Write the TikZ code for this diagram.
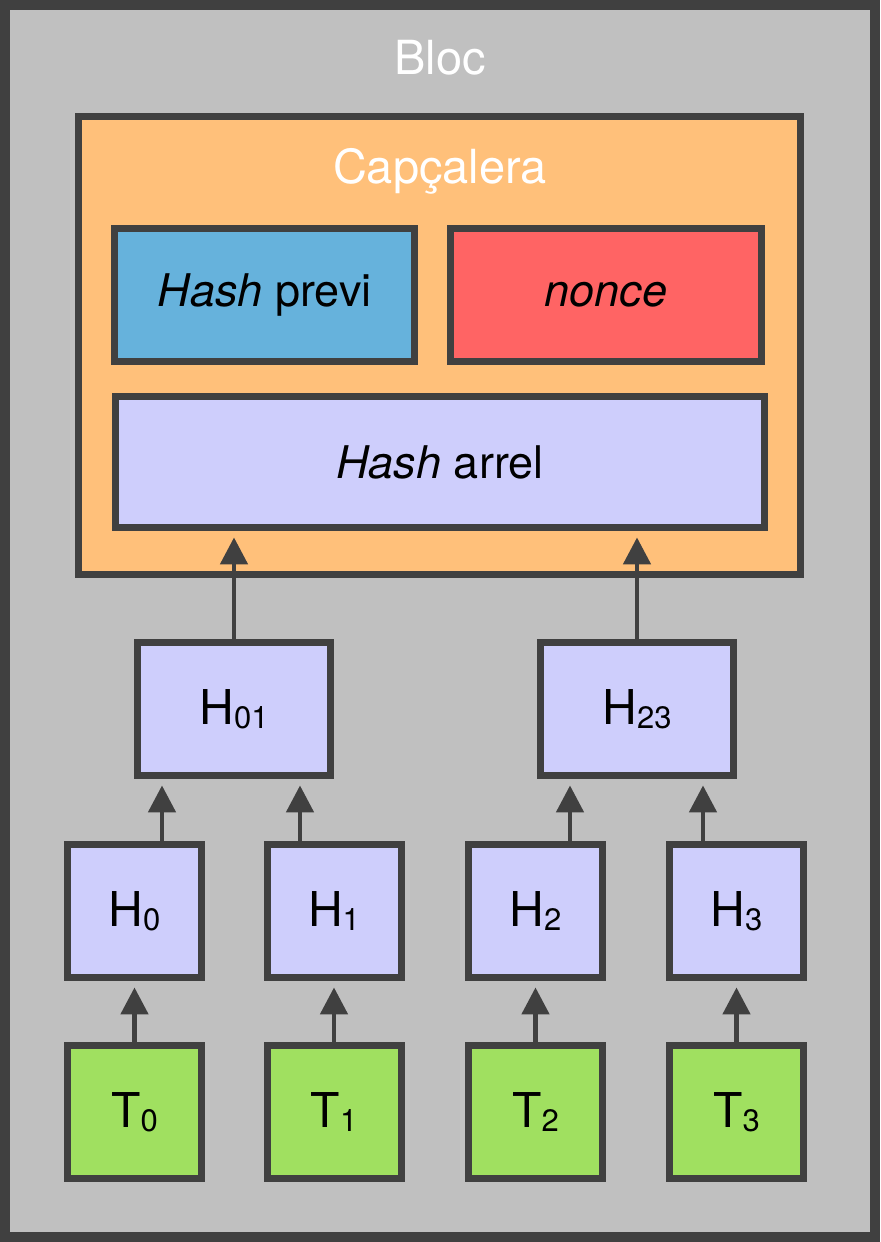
\documentclass[tikz,border=0pt]{standalone}
\usepackage{fontspec}
\setmainfont{TeX Gyre Heros}
\usetikzlibrary{arrows.meta,positioning,calc}
\definecolor{edgegrey}{HTML}{404040}
\definecolor{backg}{HTML}{C0C0C0}
\definecolor{header}{HTML}{FFC07A}
\definecolor{prevblue}{HTML}{66B2DC}
\definecolor{noncered}{HTML}{FF6464}
\definecolor{lav}{HTML}{CECEFC}
\definecolor{txgreen}{HTML}{A0E060}
\newcommand\idx[1]{\raisebox{-0.08em}{\fontsize{15.5pt}{15.5pt}\selectfont #1}}

\begin{document}
\begin{tikzpicture}[x=0.5pt,y=-0.5pt,
    box/.style={draw=edgegrey,line width=3.5pt,inner sep=0pt,
      font=\fontsize{22.5pt}{22.5pt}\selectfont},
    hashbox/.style={box,fill=lav,minimum width=67pt,minimum height=66.5pt,
      font=\fontsize{24pt}{24pt}\selectfont},
    txbox/.style={hashbox,fill=txgreen},
    title/.style={white,font=\fontsize{23.5pt}{23.5pt}\selectfont},
    arr/.style={draw=edgegrey,line width=2.4pt,
      -{Triangle[length=13.5pt,width=13.5pt]},shorten >=3.2pt}]
    \useasboundingbox (0,0) rectangle (880,1242);
    \draw[edgegrey,line width=5pt,fill=backg] (5,5) rectangle (875,1237);
    \node[title] (bloclbl) at (440,58) {Bloc};
    % capçalera
    \node[box,fill=header,minimum width=361pt,minimum height=229pt] (head) at (439.5,345.5) {};
    \node[title] (headlbl) at (440,171) {Capçalera};
    \node[box,fill=prevblue,minimum width=150pt,minimum height=66.5pt] (prev) at (264.5,295) {\textit{Hash} previ};
    \node[box,fill=noncered,minimum width=155.5pt,minimum height=66.5pt] (nonce) at (606,295) {\textit{nonce}};
    \node[box,fill=lav,minimum width=324.5pt,minimum height=65.5pt] (root) at (440,462) {\textit{Hash} arrel};
    % arbre de Merkle
    \node[hashbox,minimum width=96.5pt] (H01) at (234,709) {H\idx{01}};
    \node[hashbox,minimum width=96.5pt] (H23) at (637,709) {H\idx{23}};
    \foreach \x [count=\i from 0] in {134.5,334,535.5,736.5} {
      \node[hashbox] (H\i) at (\x,911) {H\idx{\i}};
      \node[txbox] (T\i) at (\x,1112) {T\idx{\i}};
      \draw[arr] (T\i) -- (H\i);
    }
    \coordinate (a0) at ([xshift=13.75pt]H0.north);
    \coordinate (a1) at ([xshift=-17pt]H1.north);
    \coordinate (a2) at ([xshift=17.25pt]H2.north);
    \coordinate (a3) at ([xshift=-16.75pt]H3.north);
    \draw[arr] (a0) -- (a0 |- H01.south);
    \draw[arr] (a1) -- (a1 |- H01.south);
    \draw[arr] (a2) -- (a2 |- H23.south);
    \draw[arr] (a3) -- (a3 |- H23.south);
    \draw[arr] (H01.north) -- (H01.north |- root.south);
    \draw[arr] (H23.north) -- (H23.north |- root.south);
  \end{tikzpicture}
\end{document}
